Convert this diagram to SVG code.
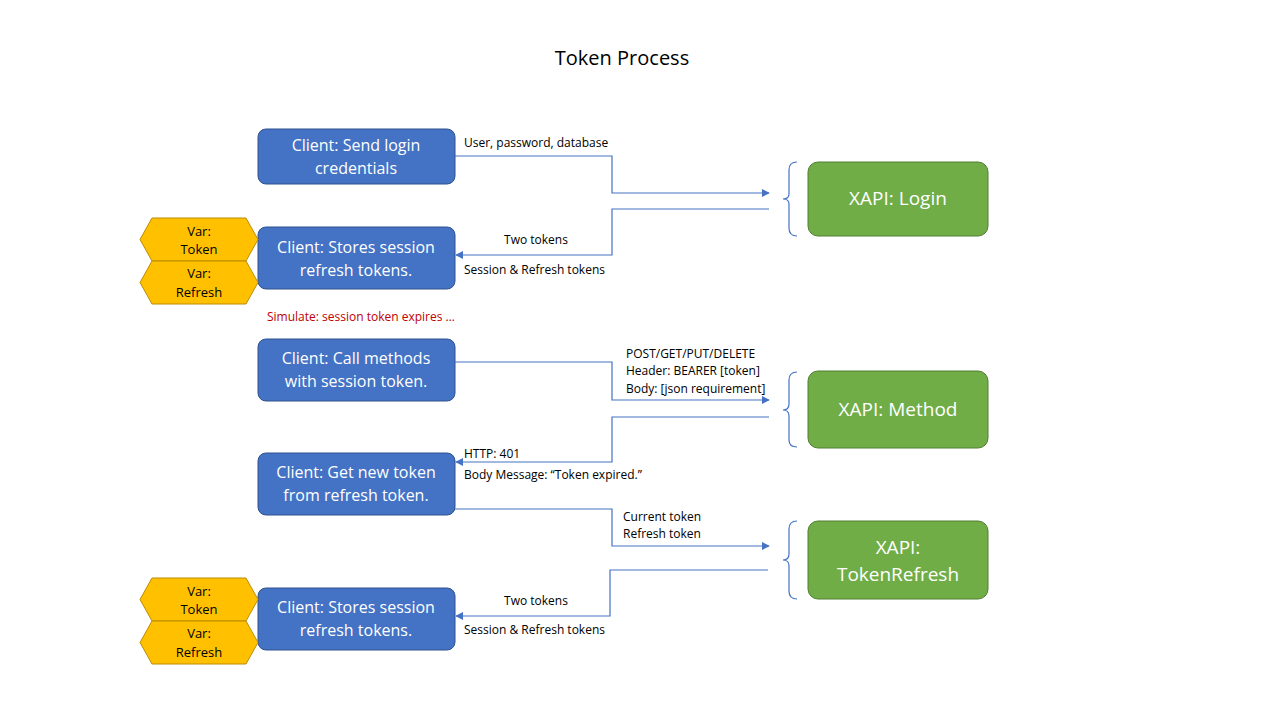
<svg xmlns="http://www.w3.org/2000/svg" width="1280" height="720" viewBox="0 0 1280 720">
<defs>
<marker id="ar" viewBox="0 0 10 10" refX="9" refY="5" markerWidth="8" markerHeight="8" markerUnits="userSpaceOnUse" orient="auto"><path d="M0,0L10,5L0,10z" fill="#4472C4"/></marker>
<style>
text{font-family:"Open Sans","Liberation Sans",sans-serif}
.b rect{fill:#4472C4;stroke:#2F528F;stroke-width:1}
.b text{fill:#fff;font-size:16px;text-anchor:middle}
.g rect{fill:#70AD47;stroke:#507E32;stroke-width:1}
.g text{fill:#fff;font-size:19px;text-anchor:middle}
.h polygon{fill:#FFC000;stroke:#BC8C00;stroke-width:1}
.h text{fill:#000;font-size:13px;text-anchor:middle}
.c path{fill:none;stroke:#4472C4;stroke-width:1.2}
.l{font-size:12px;fill:#000}
</style>
</defs>
<rect width="1280" height="720" fill="#fff"/>
<text x="622" y="65" font-size="20" text-anchor="middle">Token Process</text>
<g id="n1" class="b"><rect x="258" y="129" width="197" height="55" rx="8"/><text x="356" y="151">Client: Send login</text><text x="356" y="174">credentials</text></g>
<g id="n2" class="b"><rect x="258" y="227" width="197" height="62" rx="8"/><text x="356" y="253">Client: Stores session</text><text x="356" y="276">refresh tokens.</text></g>
<g id="n3" class="b"><rect x="258" y="339" width="197" height="62" rx="8"/><text x="356" y="364">Client: Call methods</text><text x="356" y="387">with session token.</text></g>
<g id="n4" class="b"><rect x="258" y="453" width="197" height="62" rx="8"/><text x="356" y="478">Client: Get new token</text><text x="356" y="501">from refresh token.</text></g>
<g id="n5" class="b"><rect x="258" y="588" width="197" height="62" rx="8"/><text x="356" y="613">Client: Stores session</text><text x="356" y="636">refresh tokens.</text></g>
<g id="g1" class="g"><rect x="808" y="162" width="180" height="74" rx="10"/><text x="898" y="205">XAPI: Login</text></g>
<g id="g2" class="g"><rect x="808" y="371" width="180" height="77" rx="10"/><text x="898" y="416">XAPI: Method</text></g>
<g id="g3" class="g"><rect x="808" y="521" width="180" height="78" rx="10"/><text x="898" y="554">XAPI:</text><text x="898" y="581">TokenRefresh</text></g>
<g id="h1" class="h"><polygon points="140,239.5 152,218 246,218 258,239.5 246,261 152,261"/><text x="199" y="236">Var:</text><text x="199" y="254">Token</text></g>
<g id="h2" class="h"><polygon points="140,282.5 152,261 246,261 258,282.5 246,304 152,304"/><text x="199" y="278">Var:</text><text x="199" y="297">Refresh</text></g>
<g id="h3" class="h"><polygon points="140,599.5 152,578 246,578 258,599.5 246,621 152,621"/><text x="199" y="596">Var:</text><text x="199" y="614">Token</text></g>
<g id="h4" class="h"><polygon points="140,642.5 152,621 246,621 258,642.5 246,664 152,664"/><text x="199" y="638">Var:</text><text x="199" y="657">Refresh</text></g>
<g id="connectors" class="c">
<path d="M455,156H612V193H769" marker-end="url(#ar)"/>
<path d="M769,209H612V255H456" marker-end="url(#ar)"/>
<path d="M455,362H612V400H769" marker-end="url(#ar)"/>
<path d="M769,417H612V462H456" marker-end="url(#ar)"/>
<path d="M455,509H612V546H769" marker-end="url(#ar)"/>
<path d="M768,570H610V616H456" marker-end="url(#ar)"/>
<path d="M797,162Q789,162 789,170V194Q789,199 783,199Q789,199 789,204V228Q789,236 797,236"/>
<path d="M797,372Q789,372 789,380V404Q789,410 783,410Q789,410 789,416V440Q789,447 797,447"/>
<path d="M797,521Q789,521 789,529V554Q789,560 783,560Q789,560 789,566V591Q789,599 797,599"/>
</g>
<g id="labels">
<text class="l" x="464" y="147">User, password, database</text>
<text class="l" x="536" y="244" text-anchor="middle">Two tokens</text>
<text class="l" x="464" y="274">Session &amp; Refresh tokens</text>
<text x="267" y="321" font-size="12" fill="#C00000">Simulate: session token expires …</text>
<text class="l" x="626" y="358">POST/GET/PUT/DELETE</text>
<text class="l" x="626" y="375">Header: BEARER [token]</text>
<text class="l" x="626" y="393">Body: [json requirement]</text>
<text class="l" x="464" y="458">HTTP: 401</text>
<text class="l" x="464" y="479">Body Message: “Token expired.”</text>
<text class="l" x="623" y="521">Current token</text>
<text class="l" x="623" y="538">Refresh token</text>
<text class="l" x="536" y="605" text-anchor="middle">Two tokens</text>
<text class="l" x="464" y="634">Session &amp; Refresh tokens</text>
</g>
</svg>
